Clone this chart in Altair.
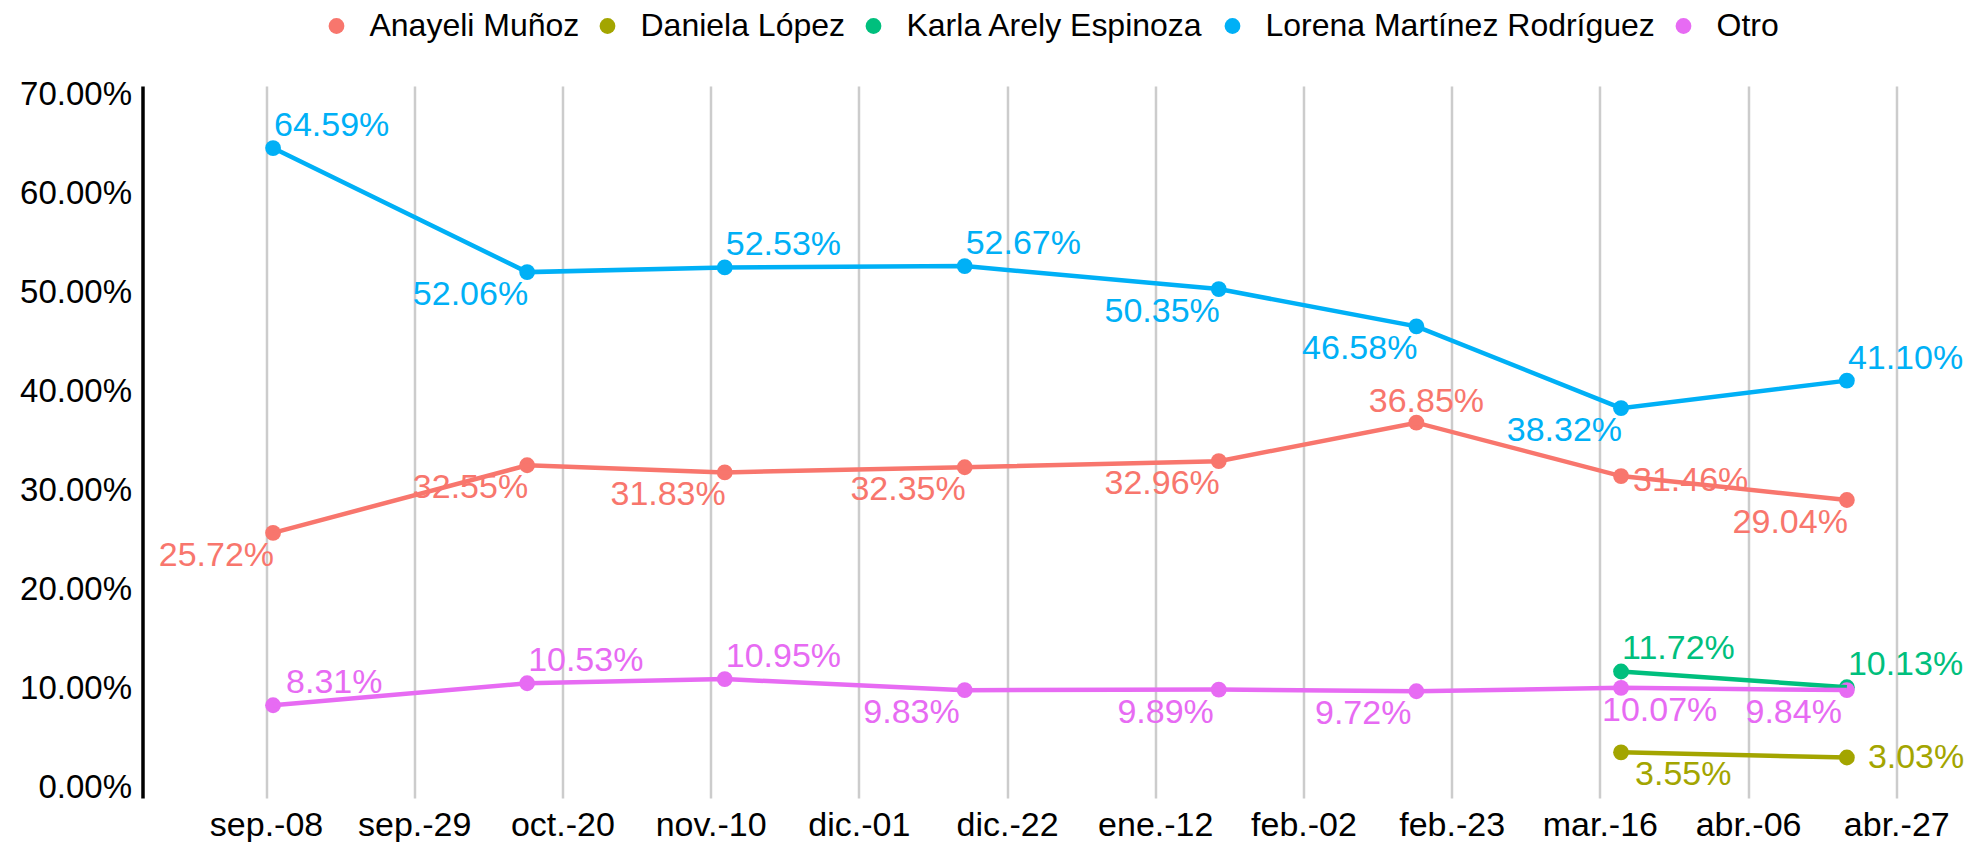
import altair as alt
import pandas as pd

# ---------------- data ----------------
series_names = ["Anayeli Muñoz", "Daniela López", "Karla Arely Espinoza",
                "Lorena Martínez Rodríguez", "Otro"]
series_colors = ["#F8766D", "#A3A500", "#00BF7D", "#00B0F6", "#E76BF3"]

poll_dates = ["2024-09-09", "2024-10-15", "2024-11-12", "2024-12-16",
              "2025-01-21", "2025-02-18", "2025-03-19", "2025-04-20"]
late_dates = ["2025-03-19", "2025-04-20"]

anayeli = [25.72, 32.55, 31.83, 32.35, 32.96, 36.85, 31.46, 29.04]
lorena = [64.59, 52.06, 52.53, 52.67, 50.35, 46.58, 38.32, 41.10]
otro = [8.31, 10.53, 10.95, 9.83, 9.89, 9.72, 10.07, 9.84]
karla = [11.72, 10.13]
daniela = [3.55, 3.03]

tick_dates = ["2024-09-08", "2024-09-29", "2024-10-20", "2024-11-10",
              "2024-12-01", "2024-12-22", "2025-01-12", "2025-02-02",
              "2025-02-23", "2025-03-16", "2025-04-06", "2025-04-27"]
tick_labels = ["sep.-08", "sep.-29", "oct.-20", "nov.-10", "dic.-01", "dic.-22",
               "ene.-12", "feb.-02", "feb.-23", "mar.-16", "abr.-06", "abr.-27"]
y_ticks = [0, 10, 20, 30, 40, 50, 60, 70]

# label placement codes (style only)
label_place = {
    "Anayeli Muñoz": ["bl", "bl", "bl", "bl", "bl", "a", "r", "bl"],
    "Daniela López": ["br14", "r22"],
    "Karla Arely Espinoza": ["ar", "ar"],
    "Lorena Martínez Rodríguez": ["ar", "bl", "ar", "ar", "bl", "bl", "bl", "ar"],
    "Otro": ["ar14", "ar", "ar", "bl6", "bl6", "bl6", "b", "bl6"],
}
place_style = {
    "ar":   dict(align="left",   dx=1,   dy=-22),
    "ar14": dict(align="left",   dx=13,  dy=-22),
    "bl":   dict(align="right",  dx=1,   dy=23),
    "bl6":  dict(align="right",  dx=-5,  dy=23),
    "br14": dict(align="left",   dx=14,  dy=23),
    "b":    dict(align="left",   dx=-19, dy=23),
    "a":    dict(align="center", dx=10,  dy=-21),
    "r":    dict(align="left",   dx=12,  dy=5),
    "r22":  dict(align="left",   dx=21,  dy=0),
}

series_values = {
    "Anayeli Muñoz": (poll_dates, anayeli),
    "Daniela López": (late_dates, daniela),
    "Karla Arely Espinoza": (late_dates, karla),
    "Lorena Martínez Rodríguez": (poll_dates, lorena),
    "Otro": (poll_dates, otro),
}

rows = []
for name in series_names:
    ds, vs = series_values[name]
    for i, (d, v) in enumerate(zip(ds, vs)):
        rows.append({"series": name, "date": d, "value": v,
                     "label": f"{v:.2f}%", "pos": label_place[name][i]})
df = pd.DataFrame(rows)


def ms(s):
    return int(pd.Timestamp(s, tz="UTC").timestamp() * 1000)


tick_ms = [ms(d) for d in tick_dates]
x_start = ms("2024-08-21T12:00:00")
x_end = ms("2025-05-06T00:00:00")
px_per_day = 7.0576
plot_w = round((x_end - x_start) / 86400000 * px_per_day, 1)
plot_h = 712

FONT = "Liberation Sans"
FS_TICK = 34
FS_Y = 33
FS_LAB = 34
FS_LEG = 32

label_expr = ("[" + ",".join(f"'{t}'" for t in tick_labels) + "][indexof(["
              + ",".join(str(t) for t in tick_ms) + "], time(datum.value))]")

x_enc = alt.X("date:T", title=None,
              scale=alt.Scale(type="utc", domain=[x_start, x_end], nice=False),
              axis=alt.Axis(values=tick_ms, labelExpr=label_expr, grid=True,
                            gridColor="#cccccc", gridWidth=2.5, domain=False,
                            ticks=False, labelPadding=11, labelFontSize=FS_TICK,
                            labelFont=FONT, labelColor="black",
                            labelAlign="center", labelOverlap=False))
y_enc = alt.Y("value:Q", title=None,
              scale=alt.Scale(domain=[-1.06, 70.86], nice=False, zero=False),
              axis=alt.Axis(values=y_ticks, labelExpr="format(datum.value, '.2f') + '%'",
                            grid=False, ticks=False, domain=True, domainColor="black",
                            domainWidth=3.5, labelPadding=11, labelFontSize=FS_Y,
                            labelFont=FONT, labelColor="black", labelOverlap=False))
color_scale = alt.Scale(domain=series_names, range=series_colors)

points = alt.Chart(df).mark_circle(size=250, opacity=1).encode(
    x=x_enc, y=y_enc,
    color=alt.Color("series:N", scale=color_scale,
                    legend=alt.Legend(title=None, orient="none", direction="horizontal",
                                      legendX=178, legendY=-76, symbolType="circle",
                                      symbolSize=250, labelFontSize=FS_LEG, labelFont=FONT,
                                      labelColor="black", labelOffset=17,
                                      columnPadding=12, symbolStrokeWidth=0,
                                      symbolOpacity=1, labelLimit=600)))

lines = alt.Chart(df).mark_line(strokeWidth=4.5).encode(
    x=x_enc, y=y_enc,
    color=alt.Color("series:N", scale=color_scale, legend=None),
    order="date:T")

text_layers = []
for code, st in place_style.items():
    text_layers.append(
        alt.Chart(df).transform_filter(alt.datum.pos == code).mark_text(
            align=st["align"], baseline="middle", dx=st["dx"], dy=st["dy"],
            fontSize=FS_LAB, font=FONT).encode(
            x=x_enc, y=y_enc, text="label:N",
            color=alt.Color("series:N", scale=color_scale, legend=None)))

chart = alt.layer(points, lines, *text_layers).properties(
    width=plot_w, height=plot_h,
    background="white",
    autosize=alt.AutoSizeParams(type="none"),
    padding={"left": 134.5, "top": 78, "right": 9, "bottom": 44},
).configure_view(stroke=None)

chart.save("out.html", embed_options={"renderer": "svg", "actions": False})
